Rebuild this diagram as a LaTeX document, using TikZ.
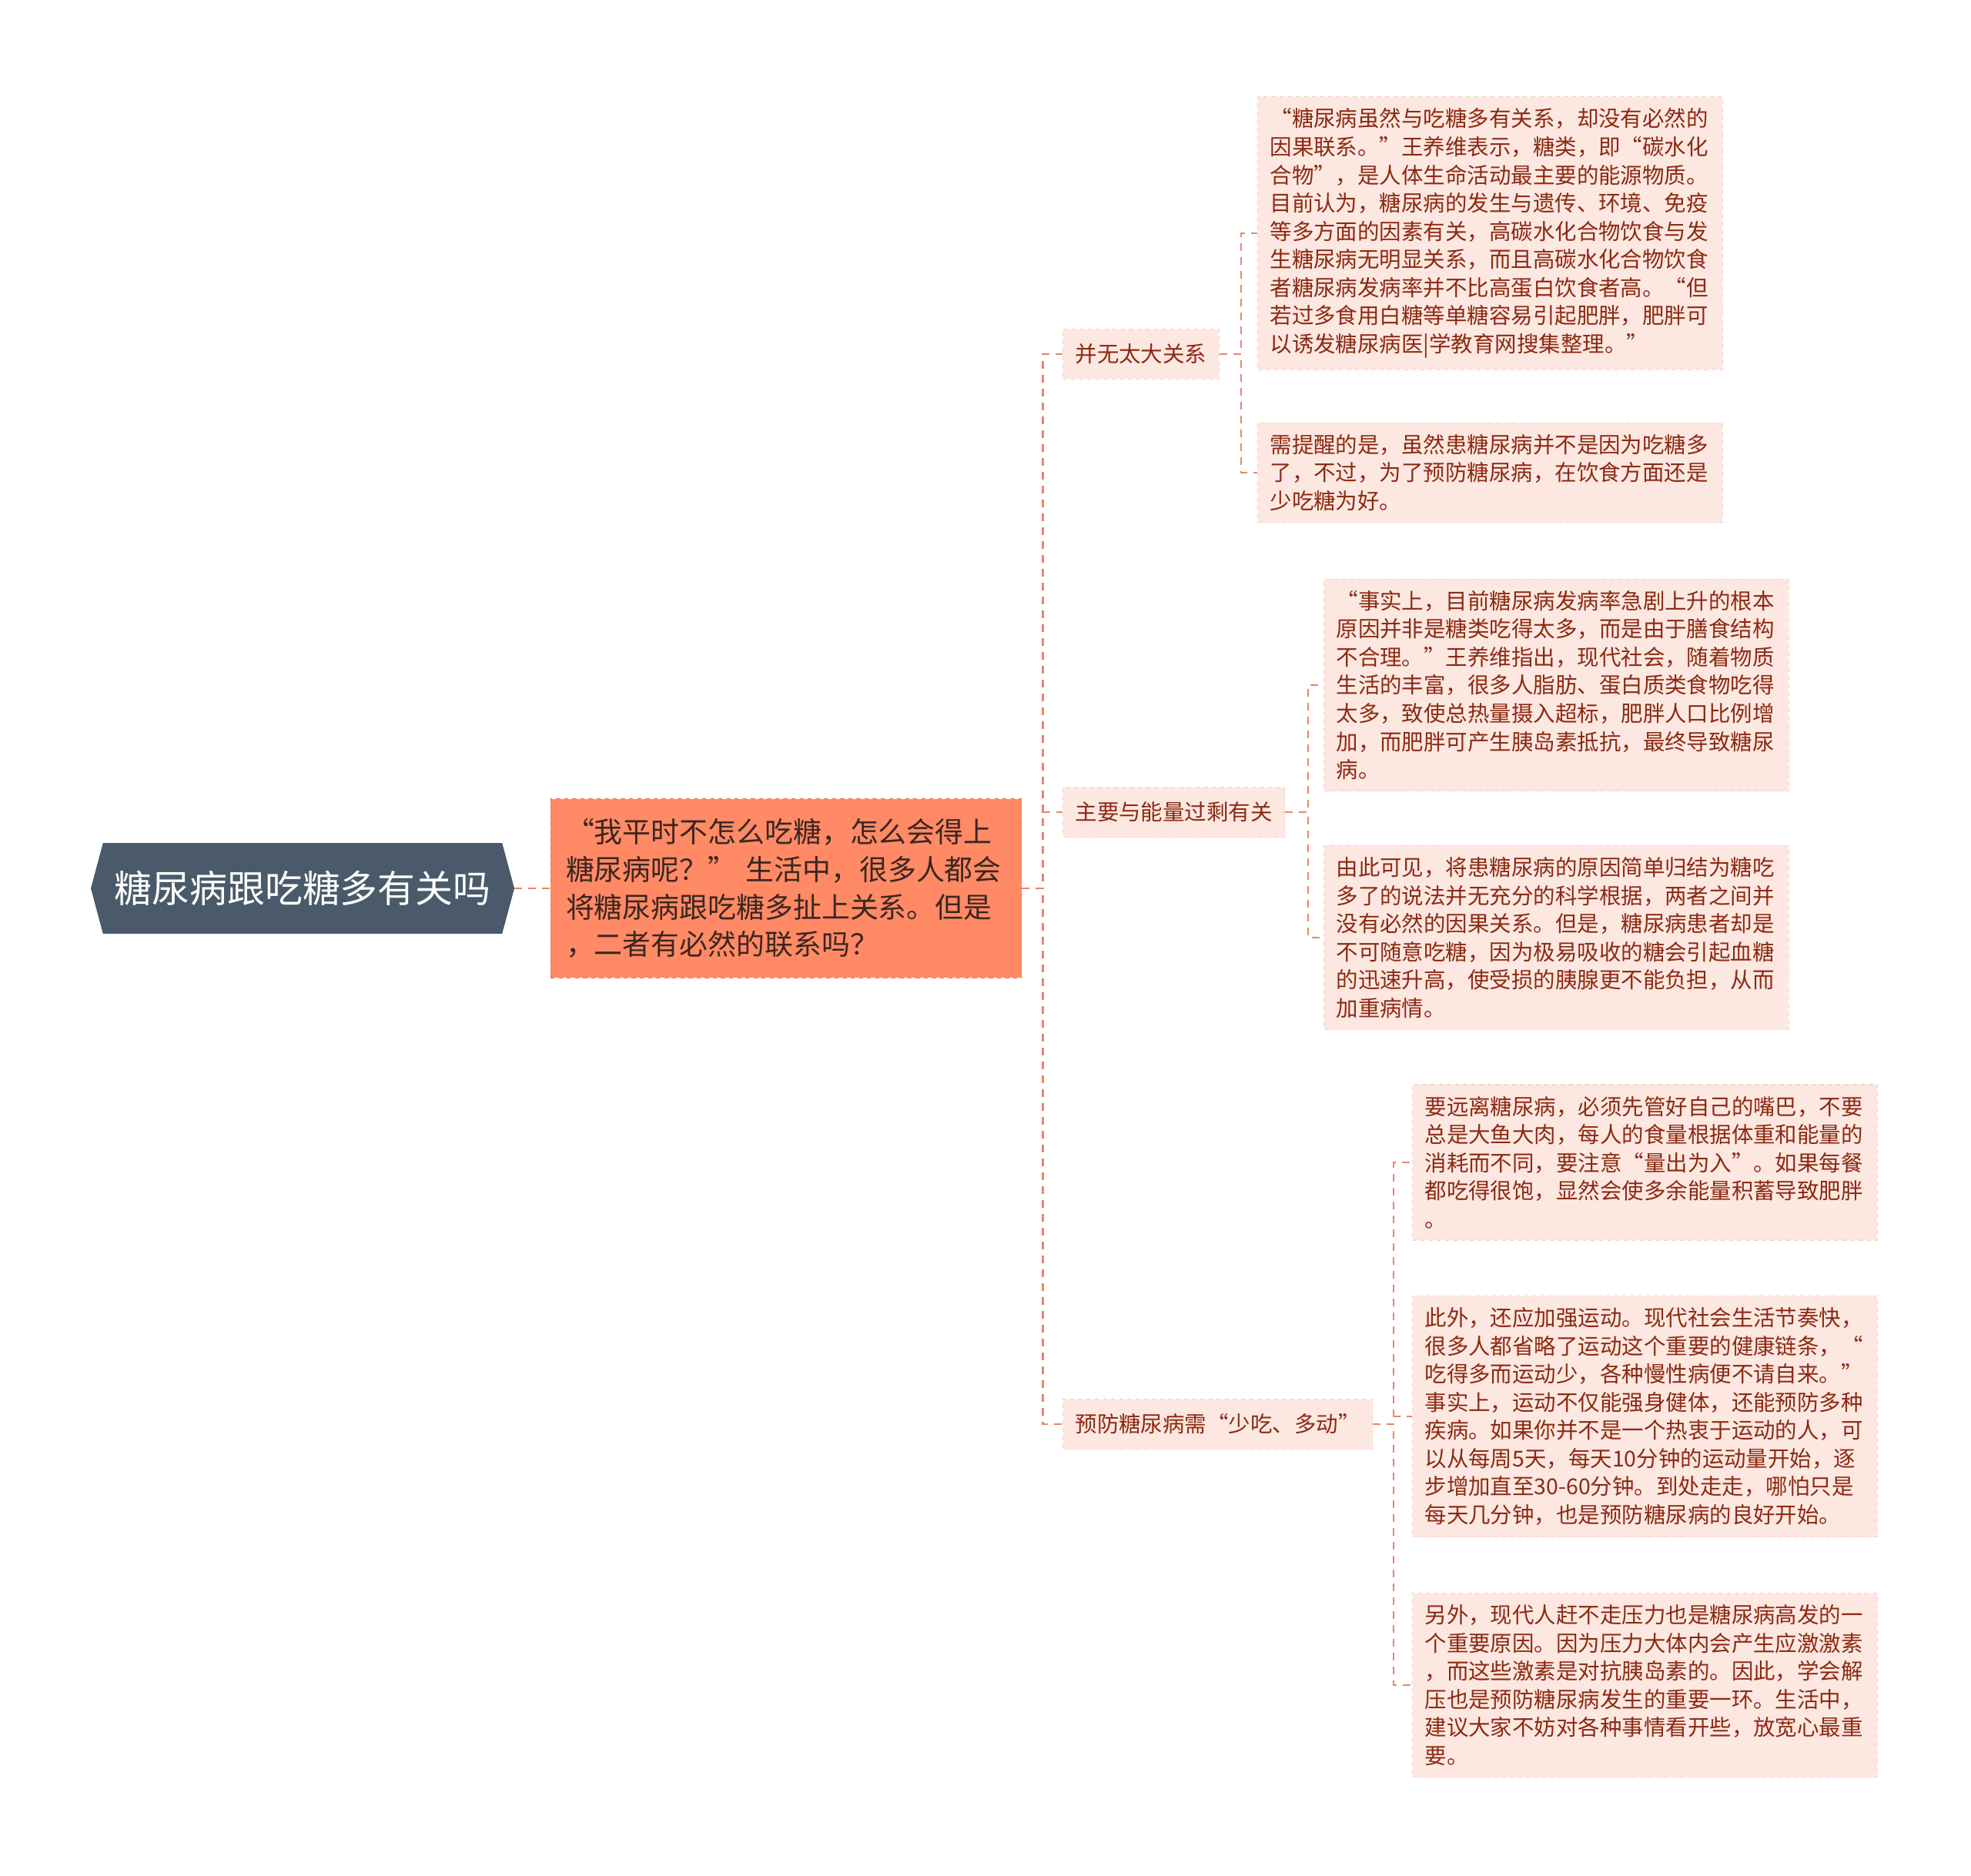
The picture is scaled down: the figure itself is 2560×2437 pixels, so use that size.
\documentclass[tikz,border=0pt]{standalone}
\usepackage{fontspec}
\setmainfont{Noto Sans CJK SC}
\usepackage{tikz}
\usetikzlibrary{shapes.symbols}
\definecolor{rootgray}{HTML}{4A5A6A}
\definecolor{mainsalmon}{HTML}{FF8A65}
\definecolor{mainedge}{HTML}{EE7452}
\definecolor{leafpink}{HTML}{FDE7E1}
\definecolor{leafedge}{HTML}{F7D3C8}
\definecolor{leaftext}{HTML}{8B2A12}
\definecolor{maintext}{HTML}{3B2620}
\definecolor{linkcol}{HTML}{E9856C}
\tikzstyle{roothex}=[signal, signal to=west and east, signal pointer angle=150, fill=rootgray, text=white, minimum height=2.36cm, minimum width=10.38cm, inner xsep=0.3cm, font=\fontsize{27.8}{32}\selectfont]
\tikzstyle{mainbox}=[rectangle, fill=mainsalmon, draw=mainedge, dashed, line width=0.6pt, text=maintext, text width=11.44cm, align=left, inner xsep=0.4cm, minimum height=4.66cm, font=\fontsize{21}{27.8}\selectfont]
\tikzstyle{branch}=[rectangle, fill=leafpink, draw=leafedge, dashed, line width=0.6pt, text=leaftext, inner xsep=0.32cm, minimum height=1.3cm, anchor=west, font=\fontsize{16.2}{20.8}\selectfont]
\tikzstyle{leaf}=[rectangle, fill=leafpink, draw=leafedge, dashed, line width=0.6pt, text=leaftext, text width=11.44cm, align=left, inner xsep=0.32cm, inner ysep=0.3cm, anchor=west, font=\fontsize{16.2}{20.8}\selectfont]
\tikzstyle{link}=[draw=linkcol, line width=1.3pt, dash pattern=on 0.2cm off 0.16cm]

\begin{document}
\begin{tikzpicture}[x=0.02cm, y=-0.02cm]
		   \useasboundingbox (0,0) rectangle (2560,2437);
		   \begin{scope}
			   \node (0) at (393, 1154)[roothex] {糖尿病跟吃糖多有关吗};
			   \node (m) at (1021, 1154)[mainbox] {“我平时不怎么吃糖，怎么会得上\\糖尿病呢？”~生活中，很多人都会\\将糖尿病跟吃糖多扯上关系。但是\\，二者有必然的联系吗？};

			   \node (1) at (1380, 460)[branch] {并无太大关系};
			   \node (2) at (1380, 1055)[branch] {主要与能量过剩有关};
			   \node (3) at (1380, 1850)[branch] {预防糖尿病需“少吃、多动”};

			   \node (1a) at (1633, 303)[leaf] {“糖尿病虽然与吃糖多有关系，却没有必然的\\因果联系。”王养维表示，糖类，即“碳水化\\合物”，是人体生命活动最主要的能源物质。\\目前认为，糖尿病的发生与遗传、环境、免疫\\等多方面的因素有关，高碳水化合物饮食与发\\生糖尿病无明显关系，而且高碳水化合物饮食\\者糖尿病发病率并不比高蛋白饮食者高。“但\\若过多食用白糖等单糖容易引起肥胖，肥胖可\\以诱发糖尿病医|学教育网搜集整理。”};
			   \node (1b) at (1633, 614)[leaf] {需提醒的是，虽然患糖尿病并不是因为吃糖多\\了，不过，为了预防糖尿病，在饮食方面还是\\少吃糖为好。};

			   \node (2a) at (1719, 890)[leaf] {“事实上，目前糖尿病发病率急剧上升的根本\\原因并非是糖类吃得太多，而是由于膳食结构\\不合理。”王养维指出，现代社会，随着物质\\生活的丰富，很多人脂肪、蛋白质类食物吃得\\太多，致使总热量摄入超标，肥胖人口比例增\\加，而肥胖可产生胰岛素抵抗，最终导致糖尿\\病。};
			   \node (2b) at (1719, 1218)[leaf] {由此可见，将患糖尿病的原因简单归结为糖吃\\多了的说法并无充分的科学根据，两者之间并\\没有必然的因果关系。但是，糖尿病患者却是\\不可随意吃糖，因为极易吸收的糖会引起血糖\\的迅速升高，使受损的胰腺更不能负担，从而\\加重病情。};

			   \node (3a) at (1834, 1510)[leaf] {要远离糖尿病，必须先管好自己的嘴巴，不要\\总是大鱼大肉，每人的食量根据体重和能量的\\消耗而不同，要注意“量出为入”。如果每餐\\都吃得很饱，显然会使多余能量积蓄导致肥胖\\。};
			   \node (3b) at (1834, 1840)[leaf] {此外，还应加强运动。现代社会生活节奏快，\\很多人都省略了运动这个重要的健康链条，“\\吃得多而运动少，各种慢性病便不请自来。”\\事实上，运动不仅能强身健体，还能预防多种\\疾病。如果你并不是一个热衷于运动的人，可\\以从每周5天，每天10分钟的运动量开始，逐\\步增加直至30-60分钟。到处走走，哪怕只是\\每天几分钟，也是预防糖尿病的良好开始。};
			   \node (3c) at (1834, 2189)[leaf] {另外，现代人赶不走压力也是糖尿病高发的一\\个重要原因。因为压力大体内会产生应激激素\\，而这些激素是对抗胰岛素的。因此，学会解\\压也是预防糖尿病发生的重要一环。生活中，\\建议大家不妨对各种事情看开些，放宽心最重\\要。};
		   \end{scope}
		   \begin{scope}
			   \draw [link] (0.east) -- (m.west);

			   \draw [link] (m.east) -- ++(27,0) |- (1.west);
			   \draw [link] (m.east) -- ++(27,0) |- (2.west);
			   \draw [link] (m.east) -- ++(27,0) |- (3.west);

			   \draw [link] (1.east) -- ++(28,0) |- (1a.west);
			   \draw [link] (1.east) -- ++(28,0) |- (1b.west);

			   \draw [link] (2.east) -- ++(30,0) |- (2a.west);
			   \draw [link] (2.east) -- ++(30,0) |- (2b.west);

			   \draw [link] (3.east) -- ++(27,0) |- (3a.west);
			   \draw [link] (3.east) -- ++(27,0) |- (3b.west);
			   \draw [link] (3.east) -- ++(27,0) |- (3c.west);
		   \end{scope}
	   \end{tikzpicture}
\end{document}
